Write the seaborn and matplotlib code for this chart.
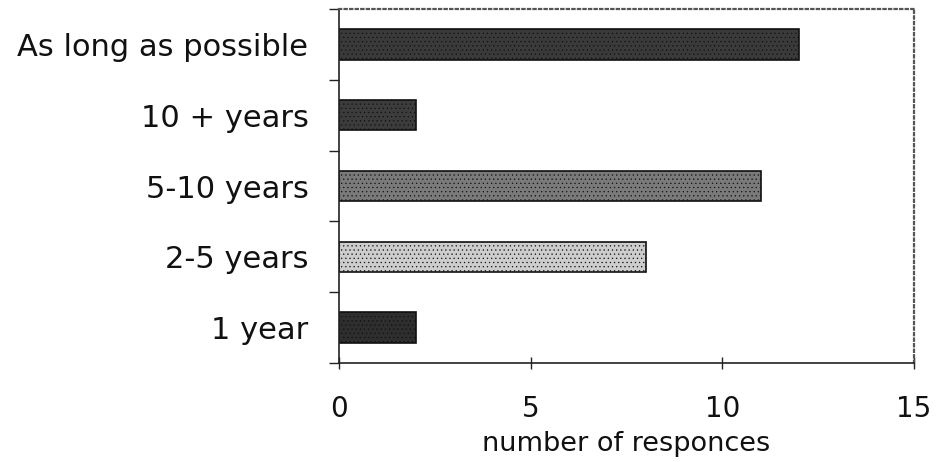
import matplotlib
matplotlib.use("Agg")
import matplotlib.pyplot as plt
import seaborn as sns
import pandas as pd

# Survey answers: how long respondents expect to keep going
categories = ["As long as possible", "10 + years", "5-10 years", "2-5 years", "1 year"]
responses = [12, 2, 11, 8, 2]
bar_colors = ["#3a3a3a", "#3c3c3c", "#7a7a7a", "#cdcdcd", "#2e2e2e"]
x_ticks = [0, 5, 10, 15]

df = pd.DataFrame({"duration": categories, "count": responses})

sns.set_style("white")
plt.rcParams["font.family"] = ["DejaVu Sans"]
plt.rcParams["hatch.color"] = "#000000"
plt.rcParams["hatch.linewidth"] = 0.4

fig = plt.figure(figsize=(9.38, 4.62), dpi=100)
ax = fig.add_axes([339 / 938, 1 - 363 / 462, (914 - 339) / 938, (363 - 9) / 462])

sns.barplot(data=df, x="count", y="duration", hue="duration", order=categories,
            palette=dict(zip(categories, bar_colors)), legend=False,
            width=0.43, orient="h", ax=ax, edgecolor="#111111", linewidth=1.2)

for patch in ax.patches:
    patch.set_hatch("....")

ax.set_xlim(0, 15)
ax.set_ylim(4.5, -0.5)
ax.set_xticks(x_ticks)
ax.set_xticklabels([str(t) for t in x_ticks], fontsize=20, color="#111111")
ax.set_yticks(range(len(categories)))
ax.set_yticklabels(categories, fontsize=22, color="#111111")
ax.set_xlabel("number of responces", fontsize=19.5, color="#111111")
ax.xaxis.set_label_coords(0.5, (363 - 431) / 354)
ax.set_ylabel("")

# category separators on the y axis
ax.set_yticks([i + 0.5 for i in range(-1, len(categories))], minor=True)
ax.tick_params(axis="y", which="major", length=0, pad=22)
ax.tick_params(axis="y", which="minor", length=7, width=1, direction="out", color="#222222", left=True)
ax.tick_params(axis="x", which="major", length=8, width=1, direction="inout", pad=19, color="#222222", bottom=True)

for side in ["left", "bottom"]:
    ax.spines[side].set_color("#222222")
    ax.spines[side].set_linewidth(1.2)
for side in ["top", "right"]:
    ax.spines[side].set_visible(True)
    ax.spines[side].set_color("#555555")
    ax.spines[side].set_linewidth(1.6)
    ax.spines[side].set_linestyle((0, (1, 1.5)))

fig.savefig("out.png", dpi=100)
